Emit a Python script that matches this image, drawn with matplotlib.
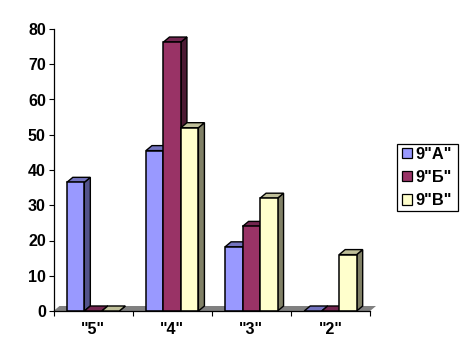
import matplotlib as mpl
mpl.use('Agg')
import matplotlib.pyplot as plt
from matplotlib.patches import Patch, Rectangle


CATEGORIES = ['"5"', '"4"', '"3"', '"2"']
SERIES = ['9"А"', '9"Б"', '9"В"']
VALUES_A = [36.5, 45.5, 18.2, 0]
VALUES_B = [0, 76.3, 24, 0]
VALUES_C = [0, 52, 32, 16]
Y_TICKS = [0, 10, 20, 30, 40, 50, 60, 70, 80]

FRONT = ["#9999ff", "#993366", "#ffffcc"]
TOP = ["#7373bf", "#732650", "#bfbf99"]
SIDE = ["#53538b", "#4c1a33", "#808066"]

W, H = 469, 361
BAR_W = 0.221
DX = 0.076  # depth of the 3d effect, in category units
DY = 1.42   # depth of the 3d effect, in value units

mpl.rcParams.update({'font.family': 'Liberation Sans',
    'font.weight': 'bold',
    'font.size': 11.5})

fig = plt.figure(dpi=100, figsize=(W / 100, H / 100))
ax = fig.add_axes((53.5 / W, 50 / H, 316.5 / W, 282 / H))
ax.set_xlim(0, len(CATEGORIES))
ax.set_ylim(0, 80)

# Floor of the 3d chart
n = len(CATEGORIES)
ax.fill([0, DX, n + DX, n], [0, DY, DY, 0], color="#808080", lw=0, zorder=1, clip_on=False)

z = 2
for i in range(n):
    for j, vals in enumerate((VALUES_A, VALUES_B, VALUES_C)):
        v = vals[i]
        x0 = i + 0.5 + (j - 1.5) * BAR_W
        x1 = x0 + BAR_W
        ax.fill([x1, x1 + DX, x1 + DX, x1], [0, DY, v + DY, v],
                facecolor=SIDE[j], edgecolor="black", lw=1.0, zorder=z, clip_on=False)
        ax.fill([x0, x0 + DX, x1 + DX, x1], [v, v + DY, v + DY, v],
                facecolor=TOP[j], edgecolor="black", lw=1.0, zorder=z, clip_on=False)
        if v > 0:
            ax.bar(x0, v, BAR_W, align="edge", facecolor=FRONT[j],
                   edgecolor="black", lw=1.1, zorder=z + 0.5, clip_on=False)
        z += 1

ax.spines["top"].set_visible(False)
ax.spines["right"].set_visible(False)
ax.spines["left"].set_linewidth(0.9)
ax.spines["bottom"].set_linewidth(0.9)
ax.spines["left"].set_zorder(50)
ax.spines["bottom"].set_zorder(50)

ax.set_yticks(Y_TICKS)
ax.tick_params(axis="y", length=3.5, width=0.8, pad=2)
ax.set_xticks(range(n + 1))
ax.set_xticklabels([])
ax.tick_params(axis="x", which="major", length=3.5, width=0.8)
ax.set_xticks([i + 0.5 for i in range(n)], CATEGORIES, minor=True)
ax.tick_params(axis="x", which="minor", length=0, pad=8)

# Legend frame drawn apart, it is tighter vertically than the legend padding allows
fig.add_artist(Rectangle((396.5 / W, 1 - 211 / H), 61.5 / W, 67 / H,
    transform=fig.transFigure, facecolor="white", edgecolor="black", lw=0.9))
handles = [Patch(facecolor=c, edgecolor="black", lw=0.9) for c in FRONT]
fig.legend(handles, SERIES, loc="center left",
    bbox_to_anchor=(396 / W, 1 - 177.5 / H), borderaxespad=0,
    frameon=False,
    handlelength=0.6, handleheight=0.6, handletextpad=0.25,
    labelspacing=0.5, borderpad=0.35, fontsize=11.8)

plt.savefig("out.png", dpi=100)
